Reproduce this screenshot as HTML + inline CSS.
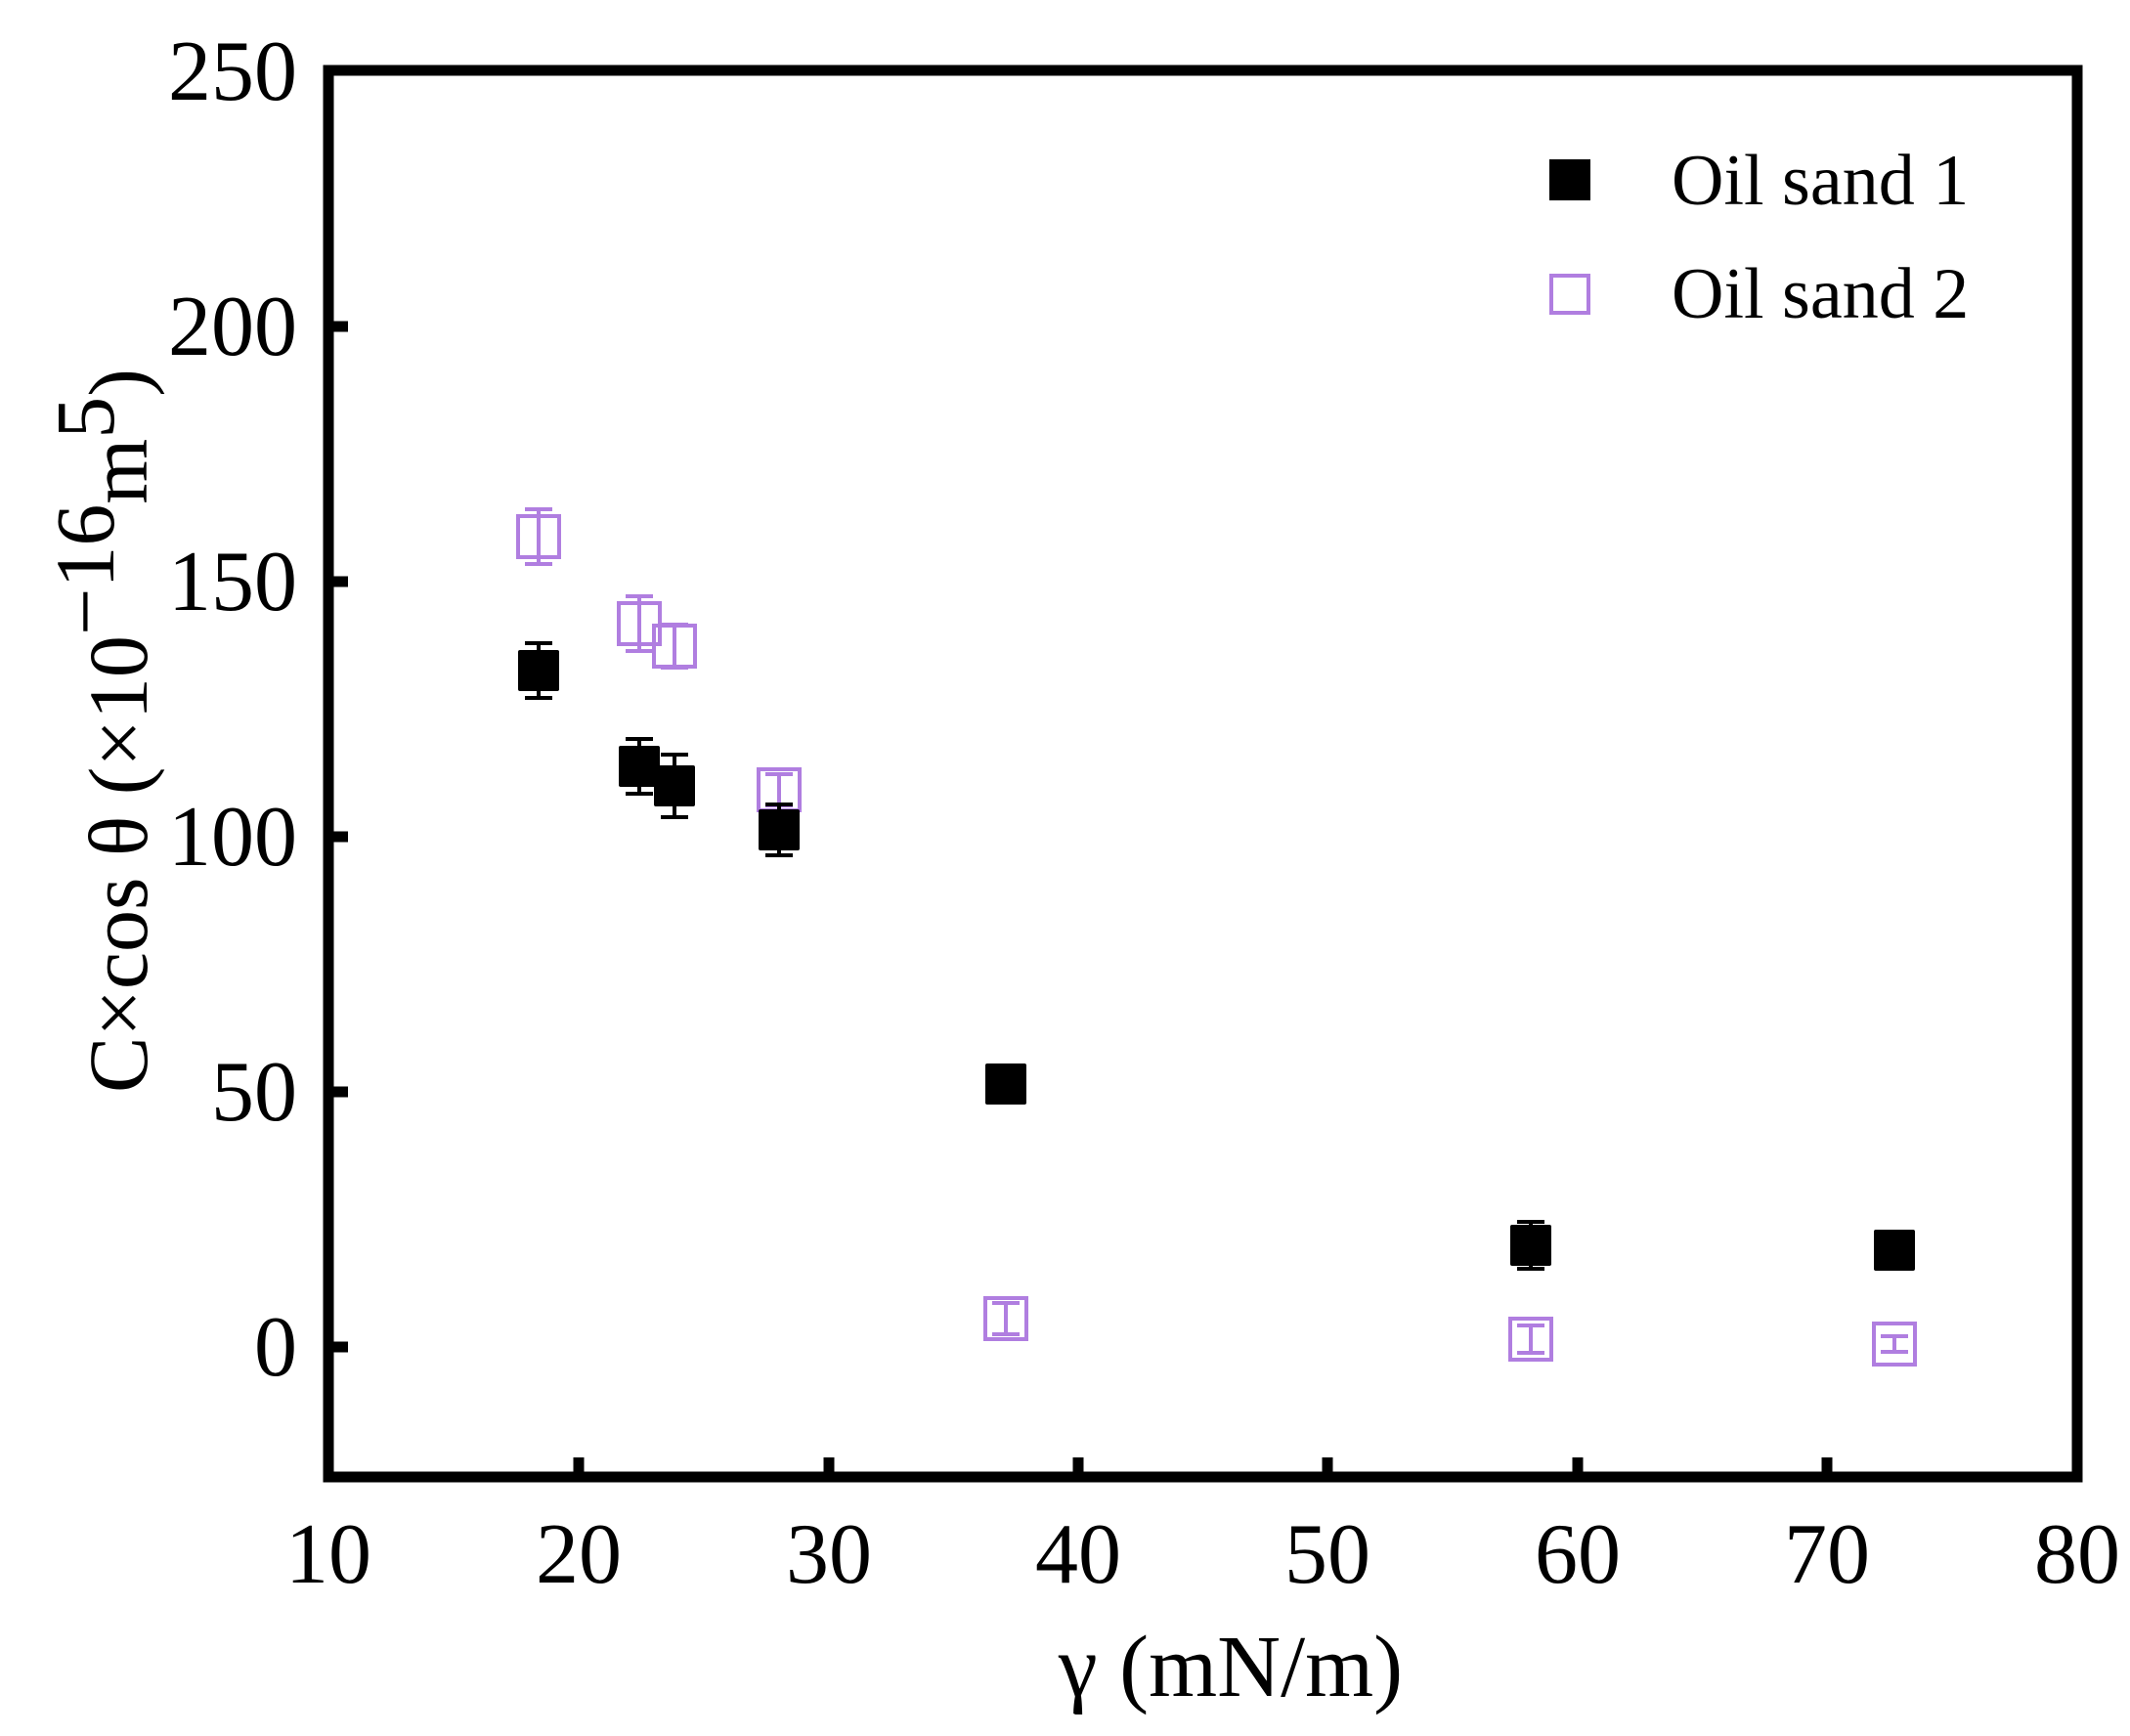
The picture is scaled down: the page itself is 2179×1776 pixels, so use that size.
<!DOCTYPE html>
<html><head><meta charset="utf-8"><style>html,body{margin:0;padding:0;background:#fff}svg{display:block}</style></head>
<body>
<svg width="2179" height="1776" viewBox="0 0 2179 1776" xmlns="http://www.w3.org/2000/svg" font-family="Liberation Serif, serif">
<rect width="2179" height="1776" fill="#fff"/>
<g stroke="#b07ee0" stroke-width="4" fill="none">
<path d="M551 521V577M537 521H565M537 577H565"/><rect x="530" y="528" width="42" height="42"/>
<path d="M654 610V666M640 610H668M640 666H668"/><rect x="633" y="617" width="42" height="42"/>
<path d="M690 639V683M676 639H704M676 683H704"/><rect x="669" y="640" width="42" height="42"/>
<path d="M797 792V824M783 792H811M783 824H811"/><rect x="776" y="787" width="42" height="42"/>
<path d="M1029 1333V1365M1015 1333H1043M1015 1365H1043"/><rect x="1008" y="1328" width="42" height="42"/>
<path d="M1566 1356V1384M1552 1356H1580M1552 1384H1580"/><rect x="1545" y="1349" width="42" height="42"/>
<path d="M1938 1367V1383M1924 1367H1952M1924 1383H1952"/><rect x="1917" y="1354" width="42" height="42"/>
</g>
<g stroke="#000" stroke-width="4">
<path d="M551 658V714M537 658H565M537 714H565"/>
<path d="M654 756V812M640 756H668M640 812H668"/>
<path d="M690 772V836M676 772H704M676 836H704"/>
<path d="M797 823V875M783 823H811M783 875H811"/>
<path d="M1029 1099V1119M1015 1099H1043M1015 1119H1043"/>
<path d="M1566 1250V1298M1552 1250H1580M1552 1298H1580"/>
</g>
<g fill="#000">
<rect x="530" y="665" width="42" height="42" rx="2"/>
<rect x="633" y="763" width="42" height="42" rx="2"/>
<rect x="669" y="783" width="42" height="42" rx="2"/>
<rect x="776" y="828" width="42" height="42" rx="2"/>
<rect x="1008" y="1088" width="42" height="42" rx="2"/>
<rect x="1545" y="1253" width="42" height="42" rx="2"/>
<rect x="1917" y="1258" width="42" height="42" rx="2"/>
</g>
<rect x="336" y="72" width="1789" height="1439" fill="none" stroke="#000" stroke-width="11"/>
<g stroke="#000" stroke-width="11">
<line x1="336" y1="1378" x2="356" y2="1378"/>
<line x1="336" y1="1117" x2="356" y2="1117"/>
<line x1="336" y1="856" x2="356" y2="856"/>
<line x1="336" y1="595" x2="356" y2="595"/>
<line x1="336" y1="334" x2="356" y2="334"/>
<line x1="592" y1="1511" x2="592" y2="1491"/>
<line x1="848" y1="1511" x2="848" y2="1491"/>
<line x1="1103" y1="1511" x2="1103" y2="1491"/>
<line x1="1358" y1="1511" x2="1358" y2="1491"/>
<line x1="1614" y1="1511" x2="1614" y2="1491"/>
<line x1="1869" y1="1511" x2="1869" y2="1491"/>
</g>
<g font-size="88" text-anchor="end" fill="#000">
<text x="304" y="102">250</text>
<text x="304" y="363">200</text>
<text x="304" y="624">150</text>
<text x="304" y="885">100</text>
<text x="304" y="1146">50</text>
<text x="304" y="1407">0</text>
</g>
<g font-size="88" text-anchor="middle" fill="#000">
<text x="336" y="1619">10</text>
<text x="592" y="1619">20</text>
<text x="848" y="1619">30</text>
<text x="1103" y="1619">40</text>
<text x="1358" y="1619">50</text>
<text x="1614" y="1619">60</text>
<text x="1869" y="1619">70</text>
<text x="2125" y="1619">80</text>
</g>
<text x="1259" y="1735" font-size="90" text-anchor="middle">γ (mN/m)</text>
<text transform="translate(150,1118) rotate(-90)" font-size="86" fill="#000">C×cos θ (×10<tspan dy="-34">−16</tspan><tspan dy="34">m</tspan><tspan dy="-34">5</tspan><tspan dy="34">)</tspan></text>
<rect x="1585" y="163" width="42" height="42" fill="#000"/>
<rect x="1587" y="282" width="38" height="38" fill="none" stroke="#b07ee0" stroke-width="4"/>
<text x="1710" y="209" font-size="74">Oil sand 1</text>
<text x="1710" y="325" font-size="74">Oil sand 2</text>
</svg>
</body></html>
